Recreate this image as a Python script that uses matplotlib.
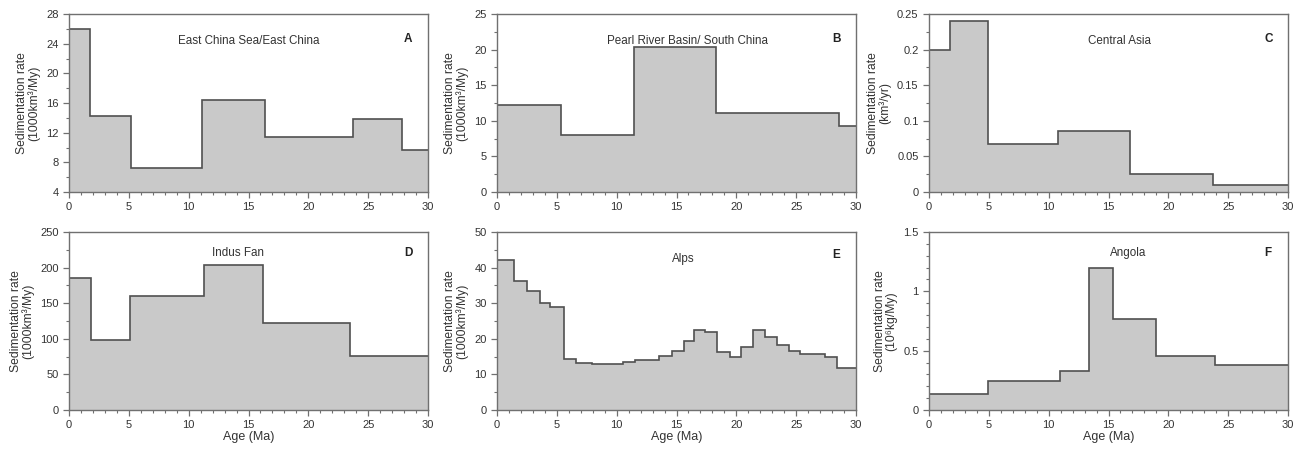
import matplotlib
matplotlib.use("Agg")
import matplotlib.pyplot as plt
from matplotlib.ticker import MultipleLocator

plt.rcParams['font.family'] = ['Liberation Sans', 'DejaVu Sans']

# Panel A: East China Sea/East China
a_edges = [0, 1.76, 5.19, 11.1, 16.4, 23.7, 27.8, 30]
a_vals = [26.0, 14.3, 7.2, 16.4, 11.45, 13.9, 9.65]
# Panel B: Pearl River Basin/ South China
b_edges = [0, 5.33, 11.44, 18.34, 28.55, 30]
b_vals = [12.2, 8.05, 20.4, 11.05, 9.3]
# Panel C: Central Asia
c_edges = [0, 1.76, 4.96, 10.8, 16.8, 23.7, 30]
c_vals = [0.2, 0.24, 0.067, 0.0857, 0.0257, 0.0098]
# Panel D: Indus Fan
d_edges = [0, 1.87, 5.1, 11.25, 16.2, 23.5, 30]
d_vals = [185, 98, 160.7, 203.7, 121.5, 76]
# Panel E: Alps
e_edges = [0, 1.45, 2.5, 3.6, 4.45, 5.6, 6.6, 7.9, 10.5, 11.5, 13.5, 14.6, 15.6,
           16.5, 17.4, 18.4, 19.45, 20.4, 21.4, 22.4, 23.4, 24.4, 25.3, 27.4, 28.4, 30]
e_vals = [42.1, 36.3, 33.4, 30.0, 28.8, 14.3, 13.3, 13.0, 13.4, 14.0, 15.1, 16.5,
          19.3, 22.4, 21.9, 16.2, 15.0, 17.6, 22.5, 20.6, 18.3, 16.5, 15.8, 14.9, 11.7]
# Panel F: Angola
f_edges = [0, 4.96, 10.96, 13.4, 15.36, 18.98, 23.86, 30]
f_vals = [0.132, 0.241, 0.331, 1.194, 0.765, 0.457, 0.376]

panels = [
    dict(edges=a_edges, vals=a_vals, ylim=(4, 28), major=4, minor=2,
         ylabel="Sedimentation rate\n(1000km³/My)", title="East China Sea/East China",
         letter="A", tx=0.5, ty=0.85, ly=0.86),
    dict(edges=b_edges, vals=b_vals, ylim=(0, 25), major=5, minor=2.5,
         ylabel="Sedimentation rate\n(1000km³/My)", title="Pearl River Basin/ South China",
         letter="B", tx=0.53, ty=0.85, ly=0.86),
    dict(edges=c_edges, vals=c_vals, ylim=(0, 0.25), major=0.05, minor=0.025,
         ylabel="Sedimentation rate\n(km³/yr)", title="Central Asia",
         letter="C", tx=0.53, ty=0.85, ly=0.86),
    dict(edges=d_edges, vals=d_vals, ylim=(0, 250), major=50, minor=25,
         ylabel="Sedimentation rate\n(1000km³/My)", title="Indus Fan",
         letter="D", tx=0.47, ty=0.88, ly=0.88),
    dict(edges=e_edges, vals=e_vals, ylim=(0, 50), major=10, minor=5,
         ylabel="Sedimentation rate\n(1000km³/My)", title="Alps",
         letter="E", tx=0.52, ty=0.85, ly=0.87),
    dict(edges=f_edges, vals=f_vals, ylim=(0, 1.5), major=0.5, minor=0.1,
         ylabel="Sedimentation rate\n(10⁶kg/My)", title="Angola",
         letter="F", tx=0.555, ty=0.88, ly=0.88),
]

fig = plt.figure(figsize=(12.96, 4.5), dpi=100)
lefts = [69, 497, 929]
W = 1296.0
H = 450.0
aw = 359 / W
ah = 178 / H
bottoms = [1 - 192 / H, 1 - 410 / H]

axcol = '#707070'
fillc = '#c9c9c9'
linec = '#505050'
txtc = '#333333'

def fmt_tick(v, pos):
    s = ('%.3f' % v).rstrip('0').rstrip('.')
    return s

for i, p in enumerate(panels):
    row, col = divmod(i, 3)
    ax = fig.add_axes([lefts[col] / W, bottoms[row], aw, ah])
    ax.stairs(p['vals'], p['edges'], baseline=p['ylim'][0], fill=True,
              color=fillc, linewidth=0)
    ax.stairs(p['vals'], p['edges'], baseline=None, fill=False,
              color=linec, linewidth=1.2)
    ax.set_xlim(0, 30)
    ax.set_ylim(*p['ylim'])
    ax.xaxis.set_major_locator(MultipleLocator(5))
    ax.xaxis.set_minor_locator(MultipleLocator(1))
    ax.yaxis.set_major_locator(MultipleLocator(p['major']))
    ax.yaxis.set_minor_locator(MultipleLocator(p['minor']))
    ax.yaxis.set_major_formatter(matplotlib.ticker.FuncFormatter(fmt_tick))
    for s in ax.spines.values():
        s.set_color(axcol)
        s.set_linewidth(1.0)
    ax.tick_params(which='major', direction='out', length=4, width=0.9,
                   color=axcol, labelsize=8, labelcolor=txtc, pad=3.5)
    ax.tick_params(which='minor', direction='out', length=2.5, width=0.8,
                   color=axcol)
    ax.set_ylabel(p['ylabel'], fontsize=8.7, color=txtc, labelpad=4,
                  linespacing=1.0)
    if row == 1:
        ax.set_xlabel("Age (Ma)", fontsize=9, color=txtc, labelpad=0.5)
    ax.text(p['tx'], p['ty'], p['title'], transform=ax.transAxes,
            ha='center', va='center', fontsize=8.4, color=txtc)
    ax.text(0.945, p['ly'], p['letter'], transform=ax.transAxes,
            ha='center', va='center', fontsize=8.5, fontweight='bold', color='#222222')

fig.savefig("out.png", dpi=100)
